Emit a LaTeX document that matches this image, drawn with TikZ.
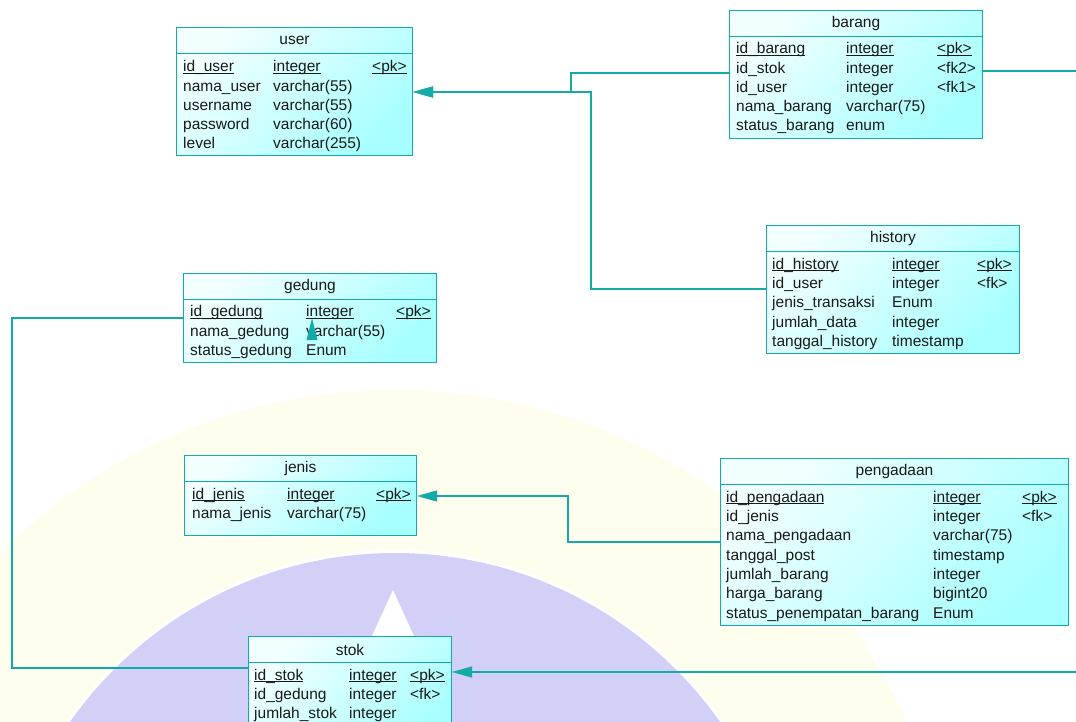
\documentclass[tikz,border=0pt]{standalone}
\usepackage{fontspec}
\setmainfont{Liberation Sans}
\usepackage{tikz}
\usetikzlibrary{arrows.meta, positioning}

\definecolor{erdline}{RGB}{20,170,168}
\definecolor{erdlight}{RGB}{242,255,255}
\definecolor{erdfill}{RGB}{168,255,255}
\definecolor{erdtext}{RGB}{25,25,25}
\definecolor{wmlav}{RGB}{210,208,246}
\definecolor{wmyellow}{RGB}{255,254,238}

\newcommand{\pk}[1]{\underline{\smash{#1}}}

\tikzset{
  tbl/.style={draw=erdline, line width=1pt, top color=erdlight, bottom color=erdfill,
              shading angle=45, anchor=north west, inner sep=0pt},
  tbltitle/.style={draw=erdline, line width=1pt, anchor=north west,
                   minimum height=26pt, inner sep=0pt, text=erdtext},
  tblbody/.style={inner sep=0pt, anchor=north west, text=erdtext},
  fk/.style={draw=erdline, line width=1.2pt, -{Triangle[length=20pt,width=11pt]}},
  fkline/.style={draw=erdline, line width=1.2pt}
}

\begin{document}
\begin{tikzpicture}[x=1pt, y=-1pt, font=\fontsize{15.5}{19.3}\selectfont]
\useasboundingbox (0,0) rectangle (1076,722);
\clip (0,0) rectangle (1076,722);
\fill[white] (0,0) rectangle (1076,722);

% faded watermark behind the tables
\fill[wmyellow, even odd rule] (395,950) circle (560) (395,950) circle (400);
\fill[wmlav] (395,950) circle (397);
\fill[white] (393,590) -- (372,636) -- (414,636) -- cycle;

% user
\node[tbl, minimum width=236pt, minimum height=128pt] (user) at (176,27) {};
\node[tbltitle, minimum width=236pt] (user-title) at (user.north west) {user};
\node[tblbody, below right=31pt and 7pt of user.north west] (user-body) {%
  \begin{tabular}{@{}p{90pt}@{}p{99pt}@{}l@{}}
  \pk{id\_user} & \pk{integer} & \pk{<pk>}\\
  nama\_user & varchar(55) & \\
  username & varchar(55) & \\
  password & varchar(60) & \\
  level & varchar(255) &
  \end{tabular}};

% barang
\node[tbl, minimum width=253pt, minimum height=128pt] (barang) at (729,10) {};
\node[tbltitle, minimum width=253pt] (barang-title) at (barang.north west) {barang};
\node[tblbody, below right=30pt and 7pt of barang.north west] (barang-body) {%
  \begin{tabular}{@{}p{110pt}@{}p{91pt}@{}l@{}}
  \pk{id\_barang} & \pk{integer} & \pk{<pk>}\\
  id\_stok & integer & <fk2>\\
  id\_user & integer & <fk1>\\
  nama\_barang & varchar(75) & \\
  status\_barang & enum &
  \end{tabular}};

% history
\node[tbl, minimum width=253pt, minimum height=128pt] (history) at (766,225) {};
\node[tbltitle, minimum width=253pt] (history-title) at (history.north west) {history};
\node[tblbody, below right=30.5pt and 6pt of history.north west] (history-body) {%
  \begin{tabular}{@{}p{120pt}@{}p{85pt}@{}l@{}}
  \pk{id\_history} & \pk{integer} & \pk{<pk>}\\
  id\_user & integer & <fk>\\
  jenis\_transaksi & Enum & \\
  jumlah\_data & integer & \\
  tanggal\_history & timestamp &
  \end{tabular}};

% gedung
\node[tbl, minimum width=253pt, minimum height=89pt] (gedung) at (183,273) {};
\node[tbltitle, minimum width=253pt] (gedung-title) at (gedung.north west) {gedung};
\node[tblbody, below right=30pt and 7pt of gedung.north west] (gedung-body) {%
  \begin{tabular}{@{}p{116pt}@{}p{90pt}@{}l@{}}
  \pk{id\_gedung} & \pk{integer} & \pk{<pk>}\\
  nama\_gedung & varchar(55) & \\
  status\_gedung & Enum &
  \end{tabular}};

% jenis
\node[tbl, minimum width=232pt, minimum height=80pt] (jenis) at (184,455) {};
\node[tbltitle, minimum width=232pt] (jenis-title) at (jenis.north west) {jenis};
\node[tblbody, below right=30.5pt and 8pt of jenis.north west] (jenis-body) {%
  \begin{tabular}{@{}p{95pt}@{}p{89pt}@{}l@{}}
  \pk{id\_jenis} & \pk{integer} & \pk{<pk>}\\
  nama\_jenis & varchar(75) &
  \end{tabular}};

% pengadaan
\node[tbl, minimum width=348pt, minimum height=167pt] (pengadaan) at (720,458) {};
\node[tbltitle, minimum width=348pt] (pengadaan-title) at (pengadaan.north west) {pengadaan};
\node[tblbody, below right=30.5pt and 6pt of pengadaan.north west] (pengadaan-body) {%
  \begin{tabular}{@{}p{207pt}@{}p{89pt}@{}l@{}}
  \pk{id\_pengadaan} & \pk{integer} & \pk{<pk>}\\
  id\_jenis & integer & <fk>\\
  nama\_pengadaan & varchar(75) & \\
  tanggal\_post & timestamp & \\
  jumlah\_barang & integer & \\
  harga\_barang & bigint20 & \\
  status\_penempatan\_barang & Enum &
  \end{tabular}};

% stok (runs off the bottom edge)
\node[tbl, minimum width=203pt, minimum height=110pt] (stok) at (248,636) {};
\node[tbltitle, minimum width=203pt] (stok-title) at (stok.north west) {stok};
\node[tblbody, below right=30.5pt and 6pt of stok.north west] (stok-body) {%
  \begin{tabular}{@{}p{95pt}@{}p{61pt}@{}l@{}}
  \pk{id\_stok} & \pk{integer} & \pk{<pk>}\\
  id\_gedung & integer & <fk>\\
  jumlah\_stok & integer &
  \end{tabular}};

% references
\draw[fk] (barang.west |- 0,73) -| (571,92) -- (user.east |- 0,92);
\draw[fk] (history.west |- 0,289) -| (591,92) -- (user.east |- 0,92);
\draw[fk] (pengadaan.west |- 0,542) -| (568,496) -- (jenis.east |- 0,496);
\draw[fk] (barang.east |- 0,71) -- (1100,71) -- (1100,672) -- (stok.east |- 0,672);
\draw[fkline] (stok.west |- 0,668) -| (12,318) -- (gedung.west |- 0,318);
\coordinate (gedtip) at (312,318);
\fill[erdline] (gedtip) -- ++(-5.5,22) -- ++(11,0) -- cycle;
\end{tikzpicture}
\end{document}
